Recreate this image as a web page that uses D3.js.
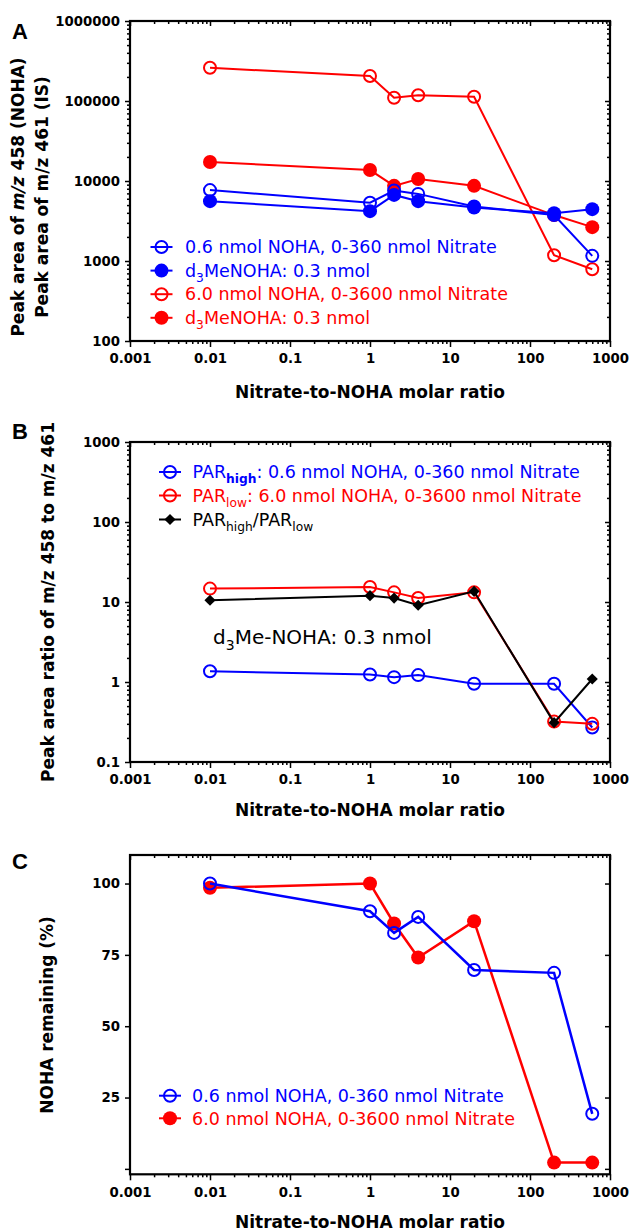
<!DOCTYPE html>
<html>
<head>
<meta charset="utf-8">
<script src="https://cdn.jsdelivr.net/npm/d3@7"></script>
<style>
body { margin: 0; background: #fff; }
text { font-family: "DejaVu Sans", Verdana, sans-serif; }
</style>
</head>
<body>
<svg id="fig" width="630" height="1231"></svg>
<script>
// nitrate-to-NOHA molar ratios (x for every series)
var ratios = [0.01, 1, 2, 4, 20, 200, 600];

// panel A: peak areas
var blueNoha = [7700, 5350, 7600, 6900, 4800, 3750, 1160];
var blueIs = [5600, 4200, 6700, 5600, 4650, 3950, 4450];
var redNoha = [260000, 205000, 110000, 118000, 113000, 1180, 790];
var redIs = [17300, 13700, 8700, 10600, 8700, 3750, 2650];

// panel B: peak area ratios
var parHigh = [1.36, 1.24, 1.15, 1.22, 0.95, 0.95, 0.27];
var parLow = [14.7, 15.4, 13.2, 11.2, 13.2, 0.32, 0.30];
var parHighLow = [10.5, 12.0, 11.2, 9.1, 13.6, 0.31, 1.09];

// panel C: NOHA remaining (%)
var remainBlue = [100, 90.3, 82.7, 88.3, 69.7, 68.7, 19.3];
var remainRed = [98.5, 100, 86, 74.1, 86.8, 2.2, 2.2];

var xTicks = [0.001, 0.01, 0.1, 1, 10, 100, 1000];
var yTicksA = [100, 1000, 10000, 100000, 1000000];
var yTicksB = [0.1, 1, 10, 100, 1000];
var yTicksC = [0, 25, 50, 75, 100];

var BLUE = '#0000ff', RED = '#ff0000', BLACK = '#000000';

var svg = d3.select('#fig');
var x = d3.scaleLog().domain([0.001, 1000]).range([130, 610]);

function minorTicks(lo, hi) {
  var out = [];
  for (var e = lo; e < hi; e++) {
    for (var k = 2; k <= 9; k++) out.push(+(k * Math.pow(10, e)).toPrecision(3));
  }
  return out;
}
var xMinor = minorTicks(-3, 3);

function styleAxis(g) {
  g.select('.domain').remove();
  g.selectAll('line').attr('stroke', '#000').attr('stroke-width', 1.5);
  g.selectAll('text')
    .style('font-family', '"DejaVu Sans", Verdana, sans-serif')
    .style('font-size', '13.3px').style('font-weight', 'bold').style('fill', '#000');
}

function drawFrame(y, yTicks, yFmt, yMinor) {
  var top = y.range()[1], bot = y.range()[0];
  var g = svg.append('g');

  g.append('g').attr('transform', 'translate(0,' + bot + ')')
    .call(d3.axisBottom(x).tickValues(xMinor).tickSize(3).tickFormat('')).call(styleAxis);
  g.append('g').attr('transform', 'translate(0,' + bot + ')')
    .call(d3.axisBottom(x).tickValues(xTicks).tickSize(6).tickPadding(7).tickFormat(String)).call(styleAxis);
  g.append('g').attr('transform', 'translate(0,' + top + ')')
    .call(d3.axisTop(x).tickValues(xMinor).tickSize(-3).tickFormat('')).call(styleAxis);
  g.append('g').attr('transform', 'translate(0,' + top + ')')
    .call(d3.axisTop(x).tickValues(xTicks).tickSize(-5).tickFormat('')).call(styleAxis);

  if (yMinor) {
    g.append('g').attr('transform', 'translate(130,0)')
      .call(d3.axisLeft(y).tickValues(yMinor).tickSize(3).tickFormat('')).call(styleAxis);
    g.append('g').attr('transform', 'translate(610,0)')
      .call(d3.axisRight(y).tickValues(yMinor).tickSize(-3).tickFormat('')).call(styleAxis);
  }
  g.append('g').attr('transform', 'translate(130,0)')
    .call(d3.axisLeft(y).tickValues(yTicks).tickSize(5).tickPadding(5).tickFormat(yFmt)).call(styleAxis);
  g.append('g').attr('transform', 'translate(610,0)')
    .call(d3.axisRight(y).tickValues(yTicks).tickSize(-5).tickFormat('')).call(styleAxis);

  g.append('rect')
    .attr('x', 130).attr('y', top).attr('width', 480).attr('height', bot - top)
    .attr('fill', 'none').attr('stroke', '#000').attr('stroke-width', 2.2);
}

function drawSeries(y, values, color, kind, width) {
  var pts = ratios.map(function(r, i) { return [r, values[i]]; });
  var line = d3.line().x(function(d) { return x(d[0]); }).y(function(d) { return y(d[1]); });
  svg.append('path').datum(pts)
    .attr('d', line).attr('fill', 'none').attr('stroke', color).attr('stroke-width', width || 2);
  svg.append('g').selectAll('path.m').data(pts).enter()
    .append('path')
    .attr('transform', function(d) { return 'translate(' + x(d[0]) + ',' + y(d[1]) + ')' + (kind === 'diamond' ? ' rotate(45)' : ''); })
    .call(marker, color, kind);
}

function marker(sel, color, kind) {
  if (kind === 'diamond') {
    sel.attr('d', d3.symbol(d3.symbolSquare, 62)()).attr('fill', color);
  } else if (kind === 'open') {
    sel.attr('d', d3.symbol(d3.symbolCircle, Math.PI * 36)())
      .attr('fill', 'none').attr('stroke', color).attr('stroke-width', 2);
  } else {
    sel.attr('d', d3.symbol(d3.symbolCircle, Math.PI * 49)()).attr('fill', color);
  }
}

// writes a text made of parts: {t, italic, bold, sub}
function richText(sel, parts, size) {
  var shift = 0;
  parts.forEach(function(p) {
    var ts = sel.append('tspan').text(p.t);
    var target = p.sub ? Math.round(size * 0.3) : 0;
    if (target !== shift) { ts.attr('dy', target - shift); shift = target; }
    if (p.sub) ts.attr('font-size', size * 0.7);
    if (p.italic) ts.attr('font-style', 'italic');
    if (p.bold) ts.attr('font-weight', 'bold');
  });
  return sel;
}

function legendRow(lx, tx, cy, color, kind, parts) {
  svg.append('line').attr('x1', lx - 11).attr('x2', lx + 11).attr('y1', cy).attr('y2', cy)
    .attr('stroke', color).attr('stroke-width', 2);
  svg.append('path').attr('transform', 'translate(' + lx + ',' + cy + ')' + (kind === 'diamond' ? ' rotate(45)' : ''))
    .call(marker, color, kind);
  var t = svg.append('text').attr('x', tx).attr('y', cy + 6.2)
    .attr('font-size', 17.5).attr('fill', color);
  richText(t, parts, 17.5);
}

function xTitle(cy) {
  svg.append('text').attr('x', 370).attr('y', cy).attr('dy', '0.35em')
    .attr('text-anchor', 'middle').attr('font-size', 17).attr('font-weight', 'bold')
    .text('Nitrate-to-NOHA molar ratio');
}

function yTitle(cx, cy, parts) {
  var t = svg.append('text')
    .attr('transform', 'translate(' + cx + ',' + cy + ') rotate(-90)')
    .attr('dy', '0.35em').attr('text-anchor', 'middle')
    .attr('font-size', 17).attr('font-weight', 'bold');
  richText(t, parts, 17);
}

function panelLetter(s, by) {
  svg.append('text').attr('x', 12).attr('y', by)
    .style('font-family', '"Liberation Sans", Arial, sans-serif')
    .attr('font-size', 22).attr('font-weight', 'bold').text(s);
}

// ---------- panel A ----------
var yA = d3.scaleLog().domain([100, 1000000]).range([341, 21]);
drawFrame(yA, yTicksA, String, minorTicks(2, 6));
drawSeries(yA, redNoha, RED, 'open');
drawSeries(yA, redIs, RED, 'filled');
drawSeries(yA, blueNoha, BLUE, 'open');
drawSeries(yA, blueIs, BLUE, 'filled');
legendRow(161.5, 185, 247, BLUE, 'open', [{t: '0.6 nmol NOHA, 0-360 nmol Nitrate'}]);
legendRow(161.5, 185, 270.6, BLUE, 'filled', [{t: 'd'}, {t: '3', sub: true}, {t: 'MeNOHA: 0.3 nmol'}]);
legendRow(161.5, 185, 294.2, RED, 'open', [{t: '6.0 nmol NOHA, 0-3600 nmol Nitrate'}]);
legendRow(161.5, 185, 317.8, RED, 'filled', [{t: 'd'}, {t: '3', sub: true}, {t: 'MeNOHA: 0.3 nmol'}]);
yTitle(18, 197, [{t: 'Peak area of '}, {t: 'm/z', italic: true}, {t: ' 458 (NOHA)'}]);
yTitle(42, 197, [{t: 'Peak area of m/z 461 (IS)'}]);
xTitle(392);
panelLetter('A', 39);

// ---------- panel B ----------
var yB = d3.scaleLog().domain([0.1, 1000]).range([762, 442]);
drawFrame(yB, yTicksB, String, minorTicks(-1, 3));
drawSeries(yB, parHigh, BLUE, 'open');
drawSeries(yB, parLow, RED, 'open');
drawSeries(yB, parHighLow, BLACK, 'diamond');
legendRow(170, 192.5, 472, BLUE, 'open', [{t: 'PAR'}, {t: 'high', sub: true, bold: true}, {t: ': 0.6 nmol NOHA, 0-360 nmol Nitrate'}]);
legendRow(170, 192.5, 495.5, RED, 'open', [{t: 'PAR'}, {t: 'low', sub: true}, {t: ': 6.0 nmol NOHA, 0-3600 nmol Nitrate'}]);
legendRow(170, 192.5, 519.5, BLACK, 'diamond', [{t: 'PAR'}, {t: 'high', sub: true}, {t: '/PAR'}, {t: 'low', sub: true}]);
var ann = svg.append('text').attr('x', 213).attr('y', 644).attr('font-size', 20).attr('fill', '#000');
richText(ann, [{t: 'd'}, {t: '3', sub: true}, {t: 'Me-NOHA: 0.3 nmol'}], 20);
yTitle(48, 602, [{t: 'Peak area ratio of m/z 458 to m/z 461'}]);
xTitle(810);
panelLetter('B', 439);

// ---------- panel C ----------
var yC = d3.scaleLinear().domain([-1.9, 110]).range([1174.3, 855]);
drawFrame(yC, yTicksC, function(d) { return d === 0 ? '' : String(d); }, null);
drawSeries(yC, remainRed, RED, 'filled', 2.5);
drawSeries(yC, remainBlue, BLUE, 'open', 2.5);
legendRow(170, 192, 1095.7, BLUE, 'open', [{t: '0.6 nmol NOHA, 0-360 nmol Nitrate'}]);
legendRow(170, 192, 1118.3, RED, 'filled', [{t: '6.0 nmol NOHA, 0-3600 nmol Nitrate'}]);
yTitle(47, 1015, [{t: 'NOHA remaining (%)'}]);
xTitle(1222);
panelLetter('C', 869);
</script>
</body>
</html>
